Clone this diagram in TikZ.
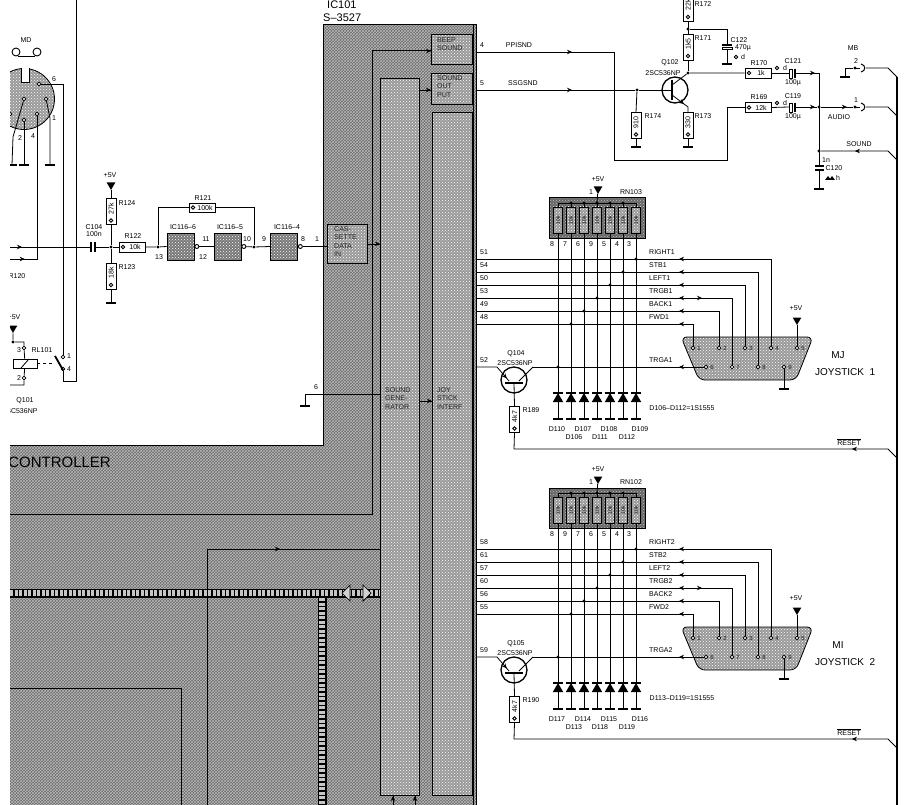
\documentclass[tikz,border=0pt]{standalone}
\usepackage{fontspec}
\setmainfont{Liberation Sans}
\usepackage{xcolor}
\usepackage{tikz}
\usetikzlibrary{positioning, arrows.meta, calc, patterns, shapes.geometric, decorations.markings}

\definecolor{icgray}{gray}{0.42}
\definecolor{meshgray}{gray}{0.72}
\definecolor{gategray}{gray}{0.47}
\definecolor{blockgray}{gray}{0.60}

\tikzset{
  wire/.style={line width=0.8pt, black},
  bar/.style={line width=1.2pt, black},
  arrowat/.style={postaction={decorate}, decoration={markings, mark=at position #1 with {\arrow{Stealth[length=5pt,width=4.5pt]}}}},
  larrowat/.style={postaction={decorate}, decoration={markings, mark=at position #1 with {\arrow{Stealth[length=5pt,width=4.5pt,reversed]}}}},
  hatched/.style={preaction={fill=icgray}, pattern=crosshatch, pattern color=meshgray},
  blockbox/.style={draw, line width=0.8pt, preaction={fill=blockgray}, pattern=crosshatch dots, pattern color=white, inner sep=0pt, anchor=north west},
  gatebox/.style={draw, line width=0.8pt, preaction={fill=gategray}, pattern=crosshatch dots, pattern color=white, inner sep=0pt, minimum width=27pt, minimum height=27pt},
  resbox/.style={draw, fill=white, line width=0.9pt, inner sep=0pt, minimum width=26pt, minimum height=10pt, font=\fontsize{7}{7}\selectfont, execute at begin node={\hspace*{6pt}}},
  pinc/.style={circle, draw, fill=white, line width=0.8pt, minimum size=3.8pt, inner sep=0pt},
  dotc/.style={circle, fill=black, minimum size=3.4pt, inner sep=0pt},
  bubble/.style={circle, draw, fill=white, line width=0.9pt, minimum size=4pt, inner sep=0pt},
  supply/.style={regular polygon, regular polygon sides=3, shape border rotate=180, fill=black, inner sep=0pt, minimum size=10pt},
  lbl/.style={font=\fontsize{7}{7.5}\selectfont, inner sep=0pt},
  blocktxt/.style={font=\fontsize{7}{8.5}\selectfont, inner sep=0pt, align=left, anchor=north west, black!85},
}

\newcommand{\pinmark}[1]{\draw[line width=0.9pt] ($(#1.west)!4.5pt!(#1.east)$) circle (1.8pt);}
\newcommand{\gndbar}[1]{\draw[bar] ([xshift=-5pt]#1) -- ([xshift=5pt]#1);}

\begin{document}
\begin{tikzpicture}[x=1pt, y=-1pt]
  \useasboundingbox (0,0) rectangle (918,805);
  \fill[white] (0,0) rectangle (918,805);

  % controller body
  \fill[hatched] (323,25) -- (476,25) -- (476,805) -- (10,805) -- (10,445) -- (323,445) -- cycle;
  \draw[line width=1pt] (10,445) -- (323,445) -- (323,25) -- (476,25) -- (476,805);
  \draw[line width=1pt] (473,25) -- (473,805);
  \node[font=\fontsize{15}{16}\selectfont, inner sep=0pt, anchor=east] (controller) at (111,462) {CONTROLLER};
  \node[inner sep=0pt, font=\fontsize{11}{12}\selectfont, anchor=west] (icname) at (327,5) {IC101};
  \node[inner sep=0pt, font=\fontsize{11}{12}\selectfont, anchor=west] (ictype) at (323,18) {S--3527};

  % blocks of the IC
  \node[blockbox, minimum width=41pt, minimum height=30pt] (beep) at (431,34) {};
  \node[blockbox, minimum width=41pt, minimum height=31pt] (sndout) at (431,73) {};
  \node[blockbox, minimum width=40pt, minimum height=683pt] (joyif) at (432,112) {};
  \node[blockbox, minimum width=39pt, minimum height=717pt] (sndgen) at (380,78) {};
  \node[blockbox, minimum width=40pt, minimum height=39pt] (cass) at (327,224) {};
  \node[blocktxt] (beeptxt) at (437,37) {BEEP\\SOUND};
  \node[blocktxt] (sndtxt) at (437,75) {SOUND\\OUT\\PUT};
  \node[blocktxt] (casstxt) at (334,226) {CAS-\\SETTE\\DATA\\IN};
  \node[blocktxt] (gentxt) at (385,387) {SOUND\\GENE-\\RATOR};
  \node[blocktxt] (joytxt) at (437,387) {JOY\\STICK\\INTERF};

  % inner wiring of the IC
  \coordinate (busa) at (372,514);
  \coordinate (busb) at (10,514);
  \coordinate (busc) at (372,51);
  \draw[line width=1pt, arrowat=1] (busb) -- (busa) -- (busc) -- (beep.west |- busc);
  \draw[wire, arrowat=1] (sndgen.north east |- 0,90) -- (sndout.north west |- 0,90);
  \draw[wire, arrowat=1] (cass.east) -- (sndgen.west |- cass.east);
  \draw[wire, arrowat=1] (sndgen.east |- 0,401) -- (joyif.west |- 0,401);
  \coordinate (lowb) at (207,549);
  \draw[wire, arrowat=73pt] (lowb) -- (sndgen.west |- lowb);
  \draw[wire] (lowb) -- (207,805);
  \draw[wire] (10,688) -- (181,688) -- (181,805);
  \draw[wire, arrowat=1] (393,805) -- (393,796);
  \draw[wire, arrowat=1] (415,805) -- (415,796);

  % data bus
  \draw[line width=9pt] (10,593) -- (380,593);
  \draw[line width=9pt] (322,589) -- (322,805);
  \draw[line width=6pt, gray!45, dash pattern=on 3pt off 1.5pt] (10,593) -- (380,593);
  \draw[line width=6pt, gray!45, dash pattern=on 3pt off 1.5pt] (322,598) -- (322,805);
  \draw[line width=0.7pt, fill=gray!35] (342,593) -- (350,585) -- (350,601) -- cycle;
  \draw[line width=0.7pt, fill=gray!35] (371,593) -- (363,585) -- (363,601) -- cycle;

  % ground on pin 6
  \coordinate (gen6) at (305,394);
  \coordinate (gen6g) at (305,406);
  \draw[wire] (sndgen.west |- gen6) -- (gen6) -- (gen6g);
  \gndbar{gen6g}
  \node[lbl] (num6) at (316,387) {6};

  % audio output
  \coordinate (e4) at (476,52);
  \coordinate (e5) at (476,90);
  \coordinate (retb) at (614,160);
  \coordinate (retc) at (727,160);
  \node[resbox, rotate=90] (r174) at (636,125.5) {910};
  \node[resbox, rotate=90] (r173) at (688,125.5) {330};
  \node[resbox, rotate=90] (r171) at (688,47) {1k5};
  \node[resbox, rotate=90] (r172) at (688,8) {22k};
  \node[resbox] (r170) at (758,73) {1k};
  \node[resbox] (r169) at (758,107.5) {12k};
  \node[circle, draw, line width=1.3pt, minimum size=26pt, inner sep=0pt] (q102) at (675,90) {};
  \node[dotc] (j174) at (637,90) {};
  \node[dotc] (jcoll) at (688,73) {};
  \node[dotc] (jtop) at (688,29) {};
  \coordinate (emit) at (688,107);
  \coordinate (g174) at (636,147);
  \coordinate (g173) at (688,147);
  \coordinate (c122t) at (727,29);
  \coordinate (g122) at (727,64);
  \draw[wire, arrowat=96pt] (e4) -- (614,52) -- (retb) -- (retc) |- (r169.west);
  \draw[wire, arrowat=96pt] (e5) -- (j174) -- (672,90);
  \draw[line width=1.8pt] (672,80) -- (672,100);
  \draw[wire] (672,85) -- (jcoll) -- (r170.west);
  \draw[wire, arrowat=15pt] (672,95) -- (emit) -- (r173.east);
  \draw[wire] (j174) -- (r174.east);
  \draw[wire] (r174.west) -- (g174);
  \draw[wire] (r173.west) -- (g173);
  \draw[wire] (jcoll) -- (r171.west);
  \draw[wire] (r171.east) -- (r172.west);
  \draw[wire] (jtop) -- (c122t) -- (727,45);
  \draw[line width=1.4pt] (722,45) -- (732,45);
  \draw[line width=1pt, fill=white] (722,48) rectangle (732,50);
  \draw[wire] (727,50) -- (g122);
  \gndbar{g174}
  \gndbar{g173}
  \gndbar{g122}
  \pinmark{r174}
  \pinmark{r173}
  \pinmark{r171}
  \pinmark{r172}
  \pinmark{r170}
  \pinmark{r169}

  % outputs to the connector MB
  \coordinate (node121) at (819,73);
  \coordinate (gnd120) at (819,189);
  \node[dotc] (n119) at (819,107) {};
  \node[dotc] (nsound) at (819,151) {};
  \node[dotc] (pin1) at (855,107) {};
  \node[dotc] (pin2) at (855,68) {};
  \coordinate (g2) at (845,77);
  \draw[wire] (r170.east) -- (789,73);
  \draw[wire, arrowat=20pt] (795,73) -- (node121);
  \draw[wire] (r169.east) -- (789,107);
  \draw[wire, arrowat=20pt] (795,107) -- (n119);
  \draw[line width=0.8pt, fill=white] (789,69) rectangle (792,78);
  \draw[line width=0.8pt, fill=white] (789,103) rectangle (792,112);
  \fill (794,69) rectangle (796,78);
  \fill (794,103) rectangle (796,112);
  \draw[wire] (node121) -- (819,166);
  \draw[line width=1.2pt] (815,166) -- (824,166);
  \draw[line width=1.2pt] (815,170) -- (824,170);
  \draw[wire] (819,170) -- (gnd120);
  \gndbar{gnd120}
  \draw[wire, arrowat=26pt] (n119) -- (pin1);
  \draw[wire] (g2) -- (845,68) -- (pin2);
  \gndbar{g2}
  \foreach \y in {68,107}{
    \draw[line width=0.8pt] (pin1 |- 0,\y) -- (860,\y);
    \draw[line width=1pt] (861,\y-4) .. controls (866,\y-3) and (866,\y+3) .. (861,\y+4);
    \draw[wire] (866,\y) -- (888,\y) -- (897,\y+9);
  }
  \draw[wire, larrowat=39pt] (nsound) -- (888,151) -- (897,160);
  \draw[line width=1.3pt] (897,77) -- (897,805);

  % cassette input
  \coordinate (in1) at (10,247);
  \node[dotc] (j104) at (111,247) {};
  \node[resbox, rotate=90] (r124) at (111,211.5) {27k};
  \node[resbox, rotate=90] (r123) at (111,276) {18k};
  \node[resbox] (r122) at (132,247) {10k};
  \node[resbox, minimum width=26pt, minimum height=9pt] (r121) at (202,207.5) {100k};
  \node[supply] (v124) at (111,185) {};
  \coordinate (g123) at (111,303);
  \node[dotc] (j13) at (158,247) {};
  \node[dotc] (j10) at (254,247) {};
  \node[gatebox] (ic6) at (180.5,246.5) {};
  \node[gatebox] (ic5) at (227.5,246.5) {};
  \node[gatebox] (ic4) at (284,246.5) {};
  \node[bubble, right=0pt of ic6] (ic6o) {};
  \node[bubble, right=0pt of ic5] (ic5o) {};
  \node[bubble, right=0pt of ic4] (ic4o) {};
  \draw[wire, arrowat=12pt] (in1) -- (91,247);
  \draw[line width=1.3pt] (91,242) -- (91,252);
  \draw[line width=1.3pt] (95,242) -- (95,252);
  \draw[wire] (95,247) -- (j104) -- (r122.west);
  \draw[wire] (v124) -- (r124.east);
  \draw[wire] (r124.west) -- (j104) -- (r123.east);
  \draw[wire] (r123.west) -- (g123);
  \gndbar{g123}
  \draw[wire] (r122.east) -- (j13) -- (ic6.west);
  \draw[wire] (ic6o) -- (ic5.west);
  \draw[wire] (ic5o) -- (j10) -- (ic4.west);
  \draw[wire] (ic4o) -- (cass.west |- ic4o);
  \draw[wire] (j13) |- (r121.west);
  \draw[wire] (r121.east) -| (j10);
  \pinmark{r124}
  \pinmark{r123}
  \pinmark{r122}
  \pinmark{r121}

  % DIN plug, cut by the margin
  \node[circle, draw, line width=0.8pt, preaction={fill=blockgray}, pattern=crosshatch dots, pattern color=white, minimum size=61pt, inner sep=0pt] (din) at (24,99) {};
  \fill[white] (21,67) rectangle (29,82);
  \draw[line width=0.8pt] (21,68) -- (21,82) -- (29,82) -- (29,68);
  \node[pinc] (din6) at (39,84) {};
  \node[pinc] (din5) at (24,99) {};
  \node[pinc] (din1) at (46,99) {};
  \node[pinc] (din3) at (10,114) {};
  \node[pinc] (din7) at (37,114) {};
  \node[pinc] (din4) at (24,120) {};
  \coordinate (gd2) at (12,165);
  \coordinate (gd4) at (24,165);
  \coordinate (gd1) at (50,165);
  \draw[wire] (din5) -- (13,137) -- (gd2);
  \draw[wire] (din4) -- (gd4);
  \draw[wire] (din1) -- (50,118) -- (gd1);
  \draw[wire, larrowat=160pt] (din7) -- (37,259) -- (10,259);
  \gndbar{gd2}
  \gndbar{gd4}
  \gndbar{gd1}
  \draw[line width=0.9pt] (16,52) circle (4pt);
  \draw[line width=0.9pt] (37,52) circle (4pt);
  \draw[line width=0.9pt] (18,56) -- (35,56);

  % relay
  \node[supply] (v101) at (13,328) {};
  \node[dotc] (j101) at (13,342) {};
  \node[pinc] (rl3) at (24,348) {};
  \node[pinc] (rl2) at (24,378) {};
  \node[pinc] (sw1) at (63,357) {};
  \node[pinc] (sw4) at (63,369) {};
  \node[draw, fill=white, line width=0.9pt, minimum width=24pt, minimum height=9pt, inner sep=0pt] (coil) at (25,363.5) {};
  \draw[wire] (v101) -- (j101) -- (24,342) -- (rl3) -- (coil);
  \draw[wire] (coil) -- (rl2) -- (24,385) -- (10,385);
  \draw[wire] (21,368) -- (29,359);
  \draw[line width=0.9pt, dashed] (coil.east) -- (55,363.5);
  \draw[line width=1.8pt] (55,356) -- (63,370);
  \draw[wire] (din6) -- (63,84) -- (sw1);
  \draw[wire] (sw4) -- (63,381) -- (76,381) -- (76,0);

  % joystick channels
  \foreach \dy/\ch in {0/1,290/2}{
    \begin{scope}[yshift=-\dy pt]
      \node[draw, line width=1pt, preaction={fill=black!60}, pattern=crosshatch dots, pattern color=black!25, minimum width=96pt, minimum height=40pt, inner sep=0pt] (rn\ch) at (597,218) {};
      \draw[wire] (558,203) -- (636,203);
      \node[supply] (v\ch) at (598,189) {};
      \node[supply] (vj\ch) at (797,320) {};
      \draw[wire] (v\ch) -- (597,203);
      \node[circle, draw, line width=1.3pt, minimum size=26pt, inner sep=0pt] (q\ch) at (514,380) {};
      \node[resbox, rotate=90] (rb\ch) at (514.5,419.5) {4k7};
      \pinmark{rb\ch}
      \coordinate (trl\ch) at (497,367);
      \coordinate (trr\ch) at (533,367);
      \coordinate (rst\ch) at (514,449);
      \draw[wire, arrowat=36pt] (476,367) -- (trl\ch) -- (509,381);
      \draw[line width=1.8pt] (505,383) -- (523,383);
      \draw[wire] (519,381) -- (trr\ch);
      \draw[wire] (514,383) -- (rb\ch.east);
      \draw[wire, larrowat=359pt] (rb\ch.west) -- (rst\ch) -- (888,449) -- (897,458);
      % connector shell
      \draw[line width=0.8pt, preaction={fill=blockgray}, pattern=crosshatch dots, pattern color=white, rounded corners=6pt] (681,337) -- (813,337) -- (796,380) -- (699,380) -- cycle;
      \foreach \p/\x/\y in {1/693/348,2/719/348,3/745/348,4/771/348,5/797/348,6/706/367,7/732/367,8/758/367,9/784/367}{
        \node[pinc] (pin\ch\p) at (\x,\y) {};
        \node[lbl, font=\fontsize{6}{6}\selectfont, gray!20!black] (pn\ch\p) at (\x+6,\y) {\p};
      }
      \draw[wire] (vj\ch) -- (pin\ch5);
      \coordinate (gj\ch) at (784,389);
      \draw[wire] (pin\ch9) -- (gj\ch);
      \gndbar{gj\ch}
      \draw[wire, larrowat=151pt] (trr\ch) -- (pin\ch6);
      % lines to the connector
      \foreach \i/\y/\conx/\p in {1/259/771/4,2/272/758/8,3/285/745/3,4/298/732/7,5/311/719/2,6/324/693/1}{
        \coordinate (row\ch\i) at (476,\y);
        \coordinate (tip\ch\i) at (\conx,\y);
        \draw[wire, larrowat={(684-476)*1pt}] (row\ch\i) -- (tip\ch\i);
        \draw[wire] (tip\ch\i) -- (pin\ch\p);
      }
      \draw[wire, arrowat=1] (695,298) -- (702,298);
      % pull-ups and clamp diodes
      \foreach \x/\yrow in {558/367,571/324,584/311,597/298,610/285,623/272,636/259}{
        \node[draw, line width=0.8pt, preaction={fill=blockgray}, pattern=crosshatch dots, pattern color=white, rotate=90, inner sep=0pt, minimum width=26pt, minimum height=9pt, font=\fontsize{5}{5}\selectfont] (rp\ch\x) at (\x,220) {10k};
        \node[regular polygon, regular polygon sides=3, fill=black, inner sep=0pt, minimum size=12pt] (d\ch\x) at (\x,399) {};
        \coordinate (dt\ch\x) at (\x,393);
        \coordinate (dg\ch\x) at (\x,419);
        \node[dotc] (dot\ch\x) at (\x,\yrow) {};
        \draw[wire] (\x,203) -- (rp\ch\x.east);
        \draw[wire] (rp\ch\x.west) -- (dt\ch\x);
        \draw[line width=1.1pt] (\x-5,393) -- (\x+5,393);
        \draw[wire] (dt\ch\x) -- (dg\ch\x);
        \gndbar{dg\ch\x}
      }
      \foreach \x in {571,584,597,610,623}{
        \node[dotc] (bus\ch\x) at (\x,203) {};
      }
    \end{scope}
  }

  % texts of channel 1
  \foreach \x/\y/\t in {484/252/51,484/265/54,484/278/50,484/291/53,484/304/49,484/317/48,484/360/52,
      552/244/8,565/244/7,578/244/6,591/244/9,604/244/5,617/244/4,629/244/3,591/192/1,
      598/179/+5V,796/308/+5V,631/192/RN103,516/354/Q104,515/363/2SC536NP,531/410/R189,
      557/429/D110,583/429/D107,609/429/D108,640/429/D109,574/437/D106,600/437/D111,627/437/D112,
      682/408/D106--D112=1S1555}{
    \node[lbl] (a\x-\y) at (\x,\y) {\t};
  }
  \foreach \y/\t in {252/RIGHT1,265/STB1,278/LEFT1,291/TRGB1,304/BACK1,317/FWD1,360/TRGA1}{
    \node[lbl, anchor=west] (a\y) at (649,\y) {\t};
  }
  % texts of channel 2
  \begin{scope}[yshift=-290pt]
    \foreach \x/\y/\t in {484/252/58,484/265/61,484/278/57,484/291/60,484/304/56,484/317/55,484/360/59,
        552/244/8,565/244/9,578/244/7,591/244/6,604/244/5,617/244/4,629/244/3,591/192/1,
        598/179/+5V,796/308/+5V,631/192/RN102,516/354/Q105,515/363/2SC536NP,531/410/R190,
        557/429/D117,583/429/D114,609/429/D115,640/429/D116,574/437/D113,600/437/D118,627/437/D119,
        682/408/D113--D119=1S1555}{
      \node[lbl] (b\x-\y) at (\x,\y) {\t};
    }
    \foreach \y/\t in {252/RIGHT2,265/STB2,278/LEFT2,291/TRGB2,304/BACK2,317/FWD2,360/TRGA2}{
      \node[lbl, anchor=west] (b\y) at (649,\y) {\t};
    }
  \end{scope}
  \foreach \n/\y/\a/\b in {mj/355/MJ/JOYSTICK\ \ 1,mi/645/MI/JOYSTICK\ \ 2}{
    \node[inner sep=0pt, font=\fontsize{10}{11}\selectfont] (\n) at (838,\y) {\a};
    \node[inner sep=0pt, font=\fontsize{10}{11}\selectfont, anchor=west] (\n j) at (815,\y+17) {\b};
  }
  \node[lbl] (reseta) at (849,442) {$\overline{\mbox{RESET}}$};
  \node[lbl] (resetb) at (849,732) {$\overline{\mbox{RESET}}$};

  % texts of the audio part
  \foreach \x/\y/\t in {482/45/4,519/45/PPISND,482/83/5,523/83/SSGSND,670/63/Q102,663/73/2SC536NP,
      653/116/R174,703/116/R173,703/38/R171,703/4/R172,739/40/C122,743/48/470µ,743/57/d,
      759/63/R170,785/68/d,793/61/C121,793/83/100µ,759/97/R169,785/103/d,793/96/C119,793/117/100µ,
      853/48/MB,856/61/2,856/100/1,839/117/AUDIO,859/144/SOUND,826/160/1n,834/168/C120,838/178/h}{
    \node[lbl] (t\x-\y) at (\x,\y) {\t};
  }
  \foreach \x/\y in {736/57,777/68,777/103}{
    \draw[line width=0.8pt] (\x,\y) circle (1.8pt);
  }
  \fill (825,180) -- (828,176) -- (831,180) -- cycle;
  \fill (829,180) -- (832,176) -- (835,180) -- cycle;

  % texts of the cassette part
  \foreach \x/\y/\t in {26/40/MD,54/79/6,20/138/2,33/136/4,54/118/1,17/276/R120,14/317/+5V,19/350/3,42/350/RL101,19/378/2,
      69/356/1,69/369/4,25/401/Q101,20/411/2SC536NP,110/175/+5V,127/203/R124,127/267/R123,94/227/C104,94/234/100n,
      133/236/R122,203/198/R121,183/227/IC116--6,230/227/IC116--5,287/227/IC116--4,
      159/257/13,203/257/12,206/239/11,247/239/10,264/239/9,303/239/8,317/239/1}{
    \node[lbl] (u\x-\y) at (\x,\y) {\t};
  }

  % left margin
  \fill[white] (0,0) rectangle (10,805);
\end{tikzpicture}
\end{document}
